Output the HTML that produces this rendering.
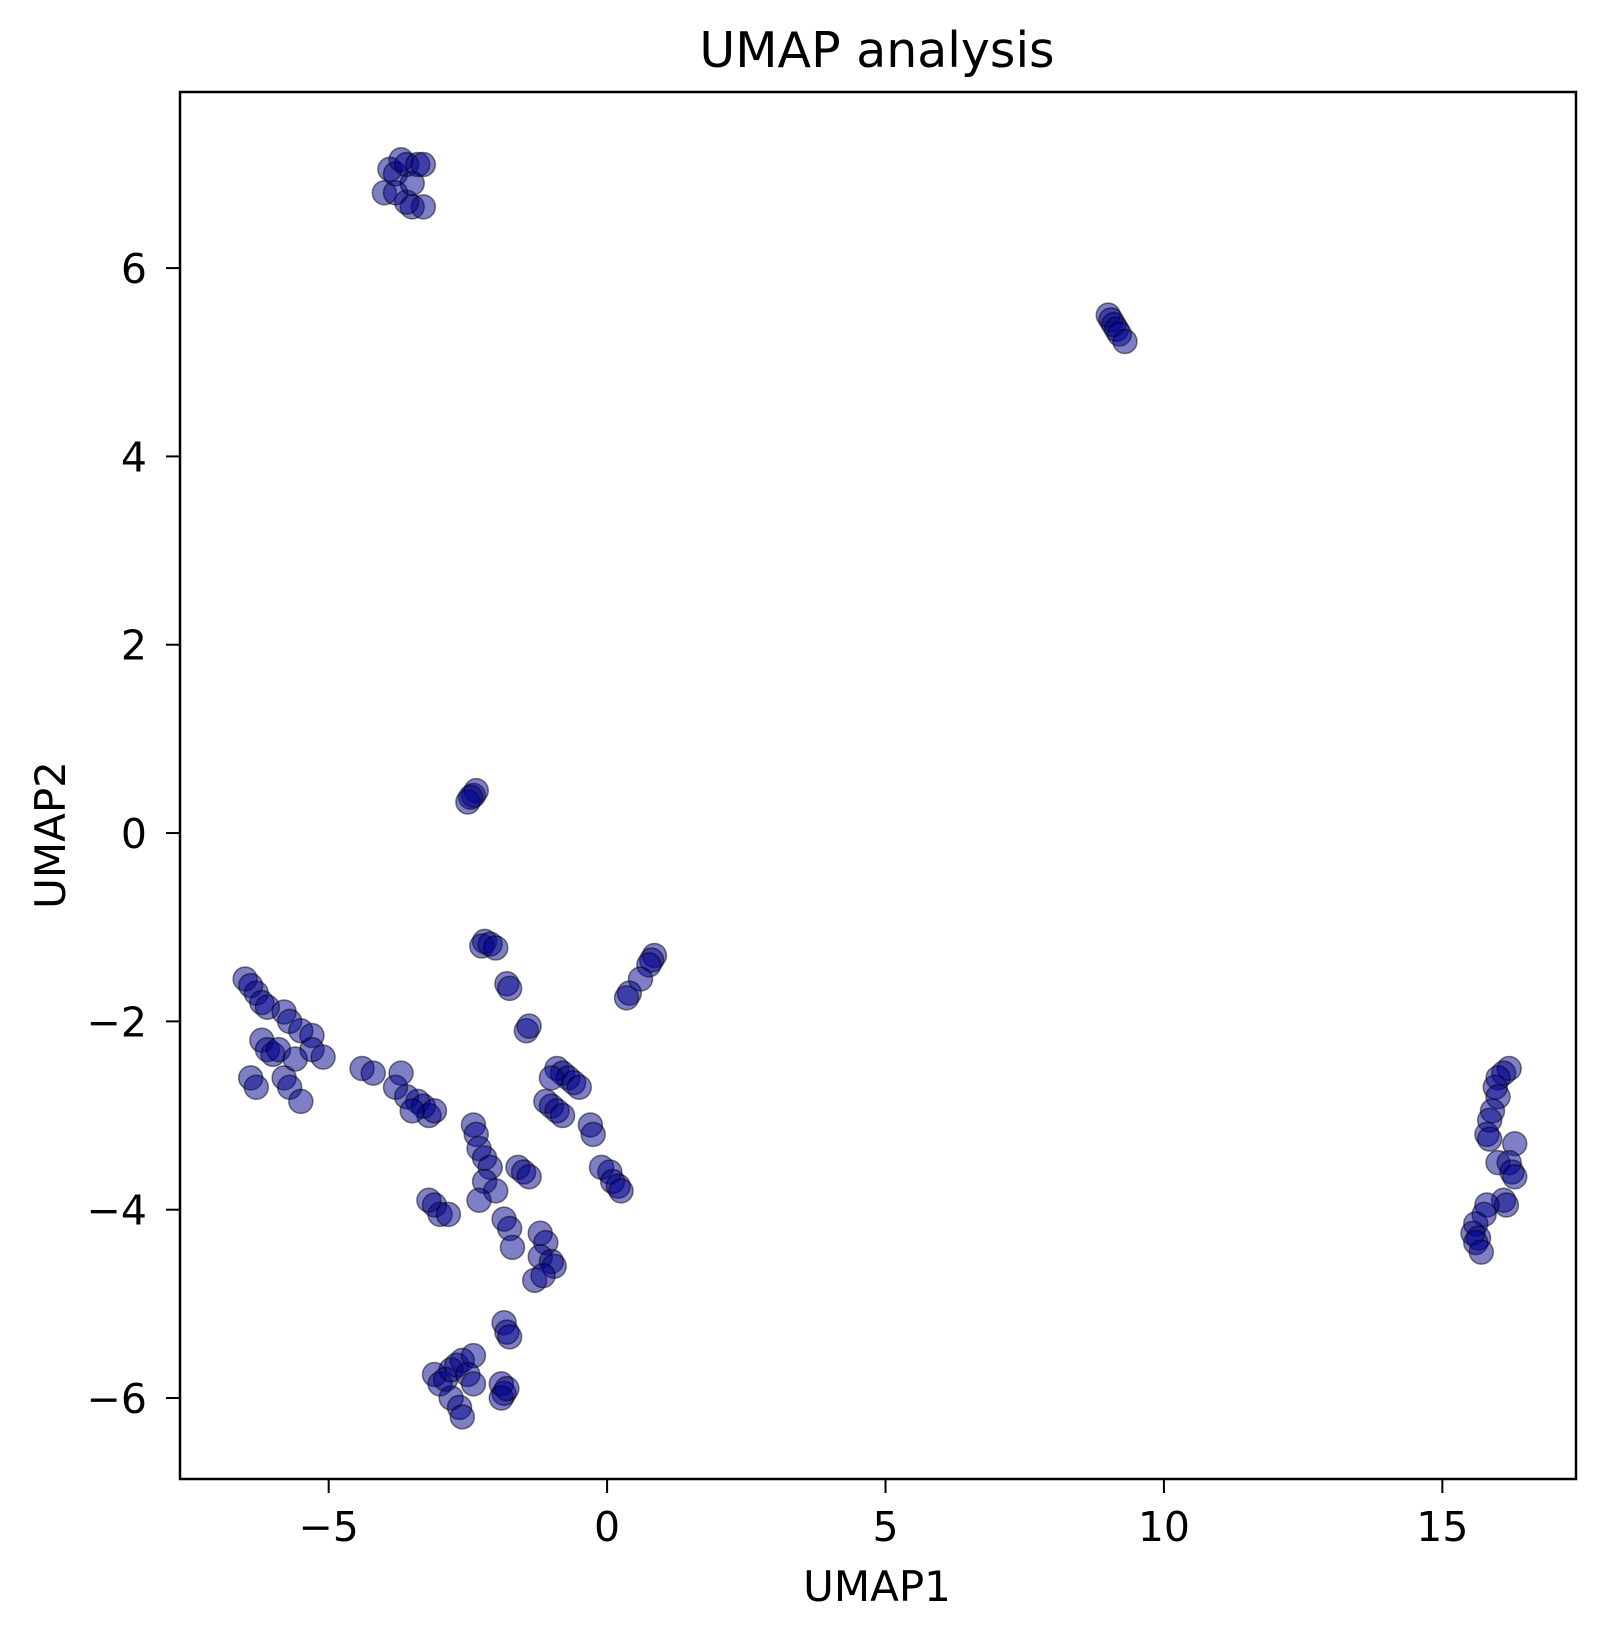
<!DOCTYPE html>
<html><head><meta charset="utf-8"><style>
html,body{margin:0;padding:0;background:#fff;}
svg{display:block;font-family:"DejaVu Sans","Liberation Sans",sans-serif;}
</style></head><body>
<svg id="chart" width="1604" height="1638" viewBox="0 0 1604 1638">
<rect x="0" y="0" width="1604" height="1638" fill="#fff"/>
<text x="877" y="67" font-size="49" text-anchor="middle">UMAP analysis</text>
<g id="points"></g>
<g id="axes"></g>
<text x="877" y="1601" font-size="42" text-anchor="middle">UMAP1</text>
<text x="0" y="0" font-size="42" text-anchor="middle" transform="translate(65,835) rotate(-90)">UMAP2</text>
</svg>
<script>
const xTicks = [-5, 0, 5, 10, 15];
const yTicks = [-6, -4, -2, 0, 2, 4, 6];
const umap1 = [-4.0,-3.9,-3.8,-3.7,-3.6,-3.4,-3.5,-3.3,-3.6,-3.8,-3.5,-3.3,
9.0,9.05,9.1,9.15,9.2,9.3,
-2.4,-2.35,-2.5,-2.45,
-2.2,-2.25,-2.1,-2.0,
-1.8,-1.75,-1.45,-1.4,
0.85,0.8,0.75,0.6,0.4,0.35,
16.2,16.1,16.0,15.95,16.0,15.9,15.85,15.8,15.85,16.3,16.0,16.2,16.25,16.3,16.1,16.15,15.8,15.75,15.6,15.55,15.65,15.6,15.7,
-6.5,-6.4,-6.3,-6.2,-6.1,-5.8,-5.7,-6.2,-6.1,-6.0,-5.9,-5.5,-5.3,-5.3,-5.1,-5.6,-6.4,-6.3,-5.8,-5.7,-5.5,-4.4,-4.2,-3.7,-3.8,-3.6,-3.4,-3.3,-3.2,-3.1,-3.5,
-2.4,-2.35,-2.3,-2.2,-2.1,-2.2,-2.0,-2.3,
-1.6,-1.5,-1.4,
-3.2,-3.1,-3.0,-2.85,
-1.85,-1.75,-1.7,-1.2,-1.1,-1.2,-1.0,-0.95,-1.3,-1.15,
-1.85,-1.8,-1.75,
-3.1,-3.0,-2.9,-2.8,-2.7,-2.6,-2.4,-2.5,-2.8,-2.65,-2.6,-1.9,-1.85,-1.9,-1.8,-2.4,
-0.9,-0.8,-0.7,-0.6,-0.5,-1.0,-1.1,-1.0,-0.9,-0.8,-0.3,-0.25,
-0.1,0.05,0.1,0.2,0.25];
const umap2 = [6.8,7.05,7.0,7.15,7.1,7.1,6.65,6.65,6.7,6.8,6.9,7.1,
5.5,5.45,5.4,5.35,5.3,5.22,
0.4,0.45,0.33,0.38,
-1.15,-1.2,-1.18,-1.22,
-1.6,-1.65,-2.1,-2.05,
-1.3,-1.35,-1.4,-1.55,-1.7,-1.75,
-2.5,-2.55,-2.6,-2.7,-2.8,-2.95,-3.05,-3.2,-3.25,-3.3,-3.5,-3.5,-3.6,-3.65,-3.9,-3.95,-3.95,-4.05,-4.15,-4.25,-4.3,-4.35,-4.45,
-1.55,-1.62,-1.7,-1.8,-1.85,-1.9,-2.0,-2.2,-2.3,-2.35,-2.3,-2.1,-2.15,-2.3,-2.38,-2.4,-2.6,-2.7,-2.6,-2.7,-2.85,-2.5,-2.55,-2.55,-2.7,-2.8,-2.85,-2.9,-3.0,-2.95,-2.95,
-3.1,-3.2,-3.35,-3.45,-3.55,-3.7,-3.8,-3.9,
-3.55,-3.6,-3.65,
-3.9,-3.95,-4.05,-4.05,
-4.1,-4.2,-4.4,-4.25,-4.35,-4.5,-4.55,-4.6,-4.75,-4.7,
-5.2,-5.3,-5.35,
-5.75,-5.85,-5.8,-5.7,-5.65,-5.6,-5.55,-5.75,-6.0,-6.1,-6.2,-5.85,-5.95,-6.0,-5.9,-5.85,
-2.5,-2.55,-2.6,-2.65,-2.7,-2.6,-2.85,-2.9,-2.95,-3.0,-3.1,-3.2,
-3.55,-3.6,-3.7,-3.75,-3.8];

const L=180,R=1576,T=92,B=1479;
const xMin=-7.67,xMax=17.4,yMin=-6.86,yMax=7.87;
const sx=v=>L+(v-xMin)/(xMax-xMin)*(R-L);
const sy=v=>B-(v-yMin)/(yMax-yMin)*(B-T);
const NS="http://www.w3.org/2000/svg";
const pg=document.getElementById('points');
for(let i=0;i<umap1.length;i++){
  const c=document.createElementNS(NS,'circle');
  c.setAttribute('cx',sx(umap1[i]));c.setAttribute('cy',sy(umap2[i]));c.setAttribute('r',12);
  c.setAttribute('fill','rgba(0,0,139,0.5)');c.setAttribute('stroke','rgba(0,0,0,0.5)');c.setAttribute('stroke-width','1.5');
  
  
  pg.appendChild(c);
}
const ag=document.getElementById('axes');
const fr=document.createElementNS(NS,'rect');
fr.setAttribute('x',L);fr.setAttribute('y',T);fr.setAttribute('width',R-L);fr.setAttribute('height',B-T);
fr.setAttribute('fill','none');fr.setAttribute('stroke','#000');fr.setAttribute('stroke-width','2.5');


ag.appendChild(fr);
const fmt=v=>v<0?'\u2212'+Math.abs(v):String(v);
xTicks.forEach(v=>{
  const x=sx(v);
  const l=document.createElementNS(NS,'line');
  l.setAttribute('x1',x);l.setAttribute('x2',x);l.setAttribute('y1',B);l.setAttribute('y2',B+14);l.setAttribute('stroke','#000');l.setAttribute('stroke-width','2');
  
  
  ag.appendChild(l);
  const t=document.createElementNS(NS,'text');
  t.setAttribute('x',x);t.setAttribute('y',1541);t.setAttribute('font-size','41');t.setAttribute('text-anchor','middle');
  t.textContent=fmt(v);
  
  
  ag.appendChild(t);
});
yTicks.forEach(v=>{
  const y=sy(v);
  const l=document.createElementNS(NS,'line');
  l.setAttribute('x1',L-14);l.setAttribute('x2',L);l.setAttribute('y1',y);l.setAttribute('y2',y);l.setAttribute('stroke','#000');l.setAttribute('stroke-width','2');
  
  
  ag.appendChild(l);
  const t=document.createElementNS(NS,'text');
  t.setAttribute('x',L-33);t.setAttribute('y',y+15);t.setAttribute('font-size','41');t.setAttribute('text-anchor','end');
  t.textContent=fmt(v);
  
  
  ag.appendChild(t);
});
</script>
</body></html>
